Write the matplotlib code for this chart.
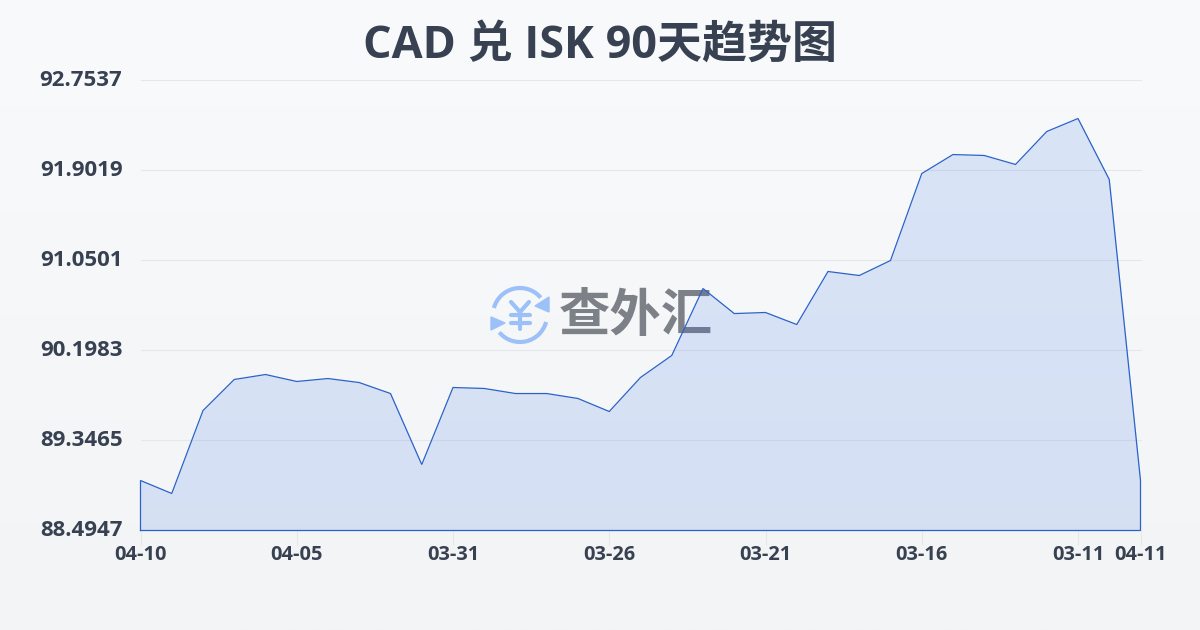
import matplotlib
matplotlib.use('Agg')
import matplotlib.pyplot as plt
from matplotlib.colors import LinearSegmentedColormap
from matplotlib.patches import Arc, Polygon
from matplotlib.transforms import ScaledTranslation
import numpy as np

title = 'CAD 兑 ISK 90天趋势图'
y_ticks = [88.4947, 89.3465, 90.1983, 91.0501, 91.9019, 92.7537]
x_labels = ['04-10', '04-05', '03-31', '03-26', '03-21', '03-16', '03-11', '04-11']
x_tick_pos = [0, 5, 10, 15, 20, 25, 30, 32]
rates = [88.968, 88.845, 89.630, 89.924, 89.971, 89.905, 89.933, 89.895, 89.791,
         89.119, 89.848, 89.839, 89.791, 89.791, 89.744, 89.621, 89.943, 90.151,
         90.785, 90.548, 90.558, 90.444, 90.946, 90.908, 91.050, 91.873, 92.053,
         92.044, 91.959, 92.271, 92.394, 91.817, 88.968]

W, H = 1200, 630
text_color = '#374151'
line_color = '#2b62c9'

fig = plt.figure(figsize=(W / 100, H / 100), dpi=100)

# page background, light vertical gradient
bg = fig.add_axes([0, 0, 1, 1], zorder=0)
bg.imshow(np.linspace(0, 1, 256).reshape(-1, 1),
          cmap=LinearSegmentedColormap.from_list('bg', ['#f9fafb', '#f3f4f6']),
          aspect='auto', extent=[0, 1, 0, 1])
bg.axis('off')

ax = fig.add_axes([140.5 / W, 1 - 530.5 / H, 1000 / W, 450 / H], zorder=1)
ax.patch.set_alpha(0)
x = np.arange(len(rates))
ax.set_xlim(0, 32)
ax.set_ylim(y_ticks[0], y_ticks[-1])
ax.grid(axis='y', color='#e5e7eb', lw=0.8)
ax.set_axisbelow(True)

for s in ax.spines.values():
    s.set_visible(False)
ax.set_yticks(y_ticks)
ax.set_yticklabels([f'{v:.4f}' for v in y_ticks], family='Open Sans',
                   fontweight='bold', fontsize=16, color=text_color)
ax.tick_params(axis='y', length=0, pad=13)
for lab in ax.get_yticklabels():
    lab.set_transform(lab.get_transform() + ScaledTranslation(0, 2 / 100, fig.dpi_scale_trans))
for gl in ax.get_ygridlines():
    gl.set_clip_on(False)
ax.set_xticks(x_tick_pos)
ax.set_xticklabels(x_labels, family='Open Sans', fontweight='bold',
                   fontsize=14.4, color=text_color)
ax.tick_params(axis='x', length=10, width=0.8, color='#e5e7eb', pad=0.5)

fig.text(0.5, 1 - 46.5 / H, title, family=['Open Sans', 'Noto Sans CJK SC'], fontweight='bold',
         fontsize=32.4, color=text_color, ha='center', va='center')

# watermark logo, in pixel coordinates
logo = fig.add_axes([0, 0, 1, 1], zorder=2)
logo.set_xlim(0, W)
logo.set_ylim(H, 0)
logo.axis('off')
blue = '#9cc0f8'
cx, cy = 520, 315
logo.add_patch(Arc((cx, cy), 54, 54, theta1=195, theta2=320, color=blue, lw=3))
logo.add_patch(Arc((cx, cy), 54, 54, theta1=15, theta2=140, color=blue, lw=3))
logo.add_patch(Polygon([[549, 297], [549, 312], [535, 306]], color=blue))
logo.add_patch(Polygon([[491, 317], [491, 330], [505, 323]], color=blue))
logo.plot([511, 520, 529], [302, 312, 302], color=blue, lw=3, solid_capstyle='round')
logo.plot([520, 520], [312, 329], color=blue, lw=3, solid_capstyle='round')
logo.plot([511, 530], [315, 315], color=blue, lw=3, solid_capstyle='round')
logo.plot([511, 530], [323, 323], color=blue, lw=3, solid_capstyle='round')
logo.text(636, 315, '查外汇', family=['Noto Sans CJK SC', 'DejaVu Sans'], fontweight='bold',
          fontsize=37, color='#7c8087', ha='center', va='center')

# area goes over the logo, under the line
top = fig.add_axes(ax.get_position(), zorder=3)
top.patch.set_alpha(0)
top.axis('off')
top.set_xlim(0, 32)
top.set_ylim(y_ticks[0], y_ticks[-1])
top.fill_between(x, rates, y_ticks[0], color='#2f6be6', alpha=0.15, lw=0)
top.plot(np.r_[x[0], x, x[-1], x[0]], np.r_[y_ticks[0], rates, y_ticks[0], y_ticks[0]],
         color=line_color, lw=0.9, clip_on=False, solid_joinstyle='miter')

fig.savefig('out.png', dpi=100)
